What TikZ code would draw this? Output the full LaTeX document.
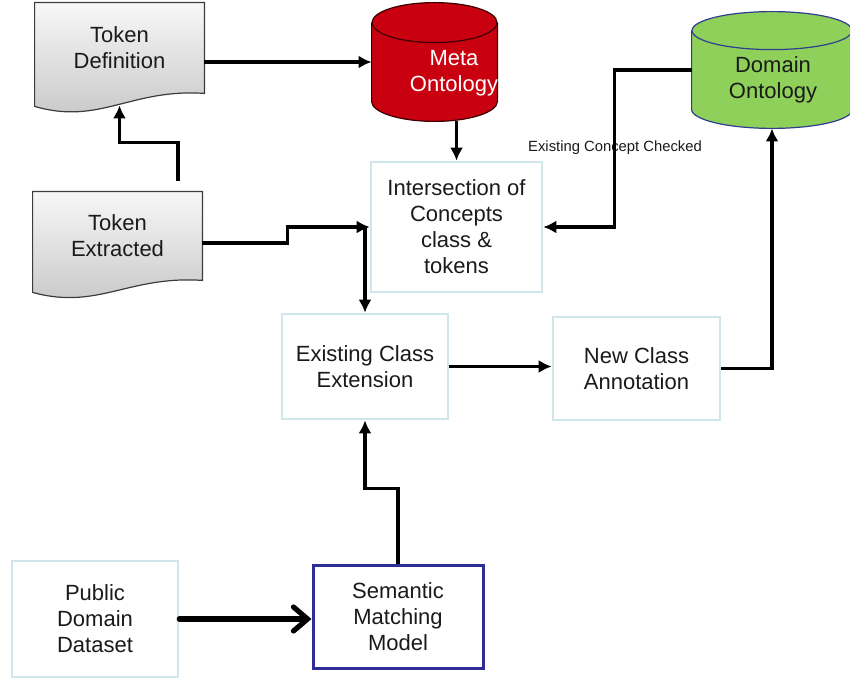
\documentclass[tikz,border=0pt]{standalone}
\usepackage{fontspec}
\setmainfont{Liberation Sans}
\usetikzlibrary{arrows.meta,calc}
\pgfdeclarelayer{background}
\pgfsetlayers{background,main}
\definecolor{boxedge}{HTML}{CFE6EA}
\definecolor{navyedge}{HTML}{2E2E96}
\definecolor{metared}{HTML}{C9000F}
\definecolor{metaedge}{HTML}{3A0000}
\definecolor{domgreen}{HTML}{8FD05A}
\definecolor{domedge}{HTML}{2F3E8F}
\definecolor{inktext}{HTML}{1A1A1A}
\definecolor{docedge}{HTML}{3C3C3C}

\begin{document}
\begin{tikzpicture}[x=0.5pt,y=-0.5pt,
  lbl/.style={font=\fontsize{11}{13}\selectfont, text=inktext, align=center},
  procbox/.style={lbl, draw=boxedge, line width=1.3pt, fill=white, inner sep=0pt},
  modelbox/.style={procbox, draw=navyedge, line width=1.5pt},
  frame/.style={inner sep=0pt},
  docfill/.style={draw=docedge, line width=0.6pt, top color=gray!6, bottom color=gray!45},
  metacyl/.style={draw=metaedge, line width=0.6pt, fill=metared},
  domcyl/.style={draw=domedge, line width=0.6pt, fill=domgreen},
  flow/.style={line width=1.8pt, -{Latex[length=6.5pt,width=6.5pt]}},
  bigflow/.style={line width=2.6pt, line cap=round, -{Straight Barb[length=7pt,width=12pt,line cap=round]}},
  note/.style={font=\fontsize{7.4}{9}\selectfont, text=inktext}
]
\useasboundingbox (0,0) rectangle (850,679);

% document-shaped sources
\node[frame, lbl, minimum width=84.5pt, minimum height=45pt] (tokdef) at (119.5,48) {Token\\Definition};
\node[frame, lbl, minimum width=84.5pt, minimum height=44pt] (tokext) at (117.5,236) {Token\\Extracted};
\coordinate (tokdefwave) at ($(tokdef.south)+(0,12)$);
\coordinate (tokexttop) at ($(tokext.north)+(60.5,-11)$);

% ontology stores
\node[frame, minimum width=62.5pt, minimum height=59pt] (meta) at (434.5,62) {};
\node[lbl, text=white] (metaname) at (454,73) {Meta\\Ontology};
\node[frame, minimum width=80pt, minimum height=58pt] (domain) at (772,70) {};
\node[lbl] (domainname) at (773,80) {Domain\\Ontology};

% process boxes
\node[procbox, minimum width=85.5pt, minimum height=65pt] (inter) at (456.5,227) {Intersection of\\Concepts\\class \&\\tokens};
\node[procbox, minimum width=83pt, minimum height=52.5pt] (exist) at (365,366.5) {Existing Class\\Extension};
\node[procbox, minimum width=83.5pt, minimum height=51.5pt] (newc) at (636.5,368.5) {New Class\\Annotation};
\node[modelbox, minimum width=85pt, minimum height=51.5pt] (semantic) at (398,616.5) {Semantic\\Matching\\Model};
\node[procbox, minimum width=83pt, minimum height=58pt] (public) at (95,619) {Public\\Domain\\Dataset};

\node[note] (checked) at (615,148) {Existing Concept Checked};

\begin{pgfonlayer}{background}
  \path[docfill] (tokdef.north west) -- (tokdef.north east) -- (tokdef.south east)
    .. controls ($(tokdef.south east)+(-74,-5)$) and ($(tokdef.south west)+(65,32)$)
    .. ($(tokdef.south west)+(0,13)$) -- cycle;
  \path[docfill] (tokext.north west) -- (tokext.north east) -- (tokext.south east)
    .. controls ($(tokext.south east)+(-74,-5)$) and ($(tokext.south west)+(65,30)$)
    .. ($(tokext.south west)+(0,12)$) -- cycle;

  \path[metacyl] ($(meta.north west)+(0,20)$) -- ($(meta.south west)+(0,-20)$)
    .. controls ($(meta.south west)+(0,-9)$) and ($(meta.south)+(-34.5,0)$) .. (meta.south)
    .. controls ($(meta.south)+(34.5,0)$) and ($(meta.south east)+(0,-9)$) .. ($(meta.south east)+(0,-20)$)
    -- ($(meta.north east)+(0,20)$);
  \path[metacyl] ($(meta.north)+(0,20)$) ellipse [x radius=31.25pt, y radius=10pt];

  \path[domcyl] ($(domain.north west)+(0,19)$) -- ($(domain.south west)+(0,-19)$)
    .. controls ($(domain.south west)+(0,-8.5)$) and ($(domain.south)+(-44,0)$) .. (domain.south)
    .. controls ($(domain.south)+(44,0)$) and ($(domain.south east)+(0,-8.5)$) .. ($(domain.south east)+(0,-19)$)
    -- ($(domain.north east)+(0,19)$);
  \path[domcyl] ($(domain.north)+(0,19)$) ellipse [x radius=40pt, y radius=9.5pt];
\end{pgfonlayer}

% connectors
\draw[flow] (tokexttop) -- ++(0,-38) -| (tokdefwave);
\draw[flow] (tokdef.east |- meta.west) -- (meta.west);
\draw[flow] (inter.north |- meta.south) -- (inter.north);
\draw[flow] (domain.west) -- ++(-77,0) |- (inter.east);
\draw[flow] ($(tokext.east)+(0,7)$) -- ++(85,0) |- (inter.west);
\draw[flow] (exist.north |- inter.west) -- (exist.north);
\draw[flow] (exist.east) -- (exist.east -| newc.west);
\draw[flow] (newc.east) -| (domain.south);
\draw[flow] (semantic.north) -- ++(0,-75) -| (exist.south);
\draw[bigflow] (public.east) -- (public.east -| semantic.west);
\end{tikzpicture}
\end{document}
